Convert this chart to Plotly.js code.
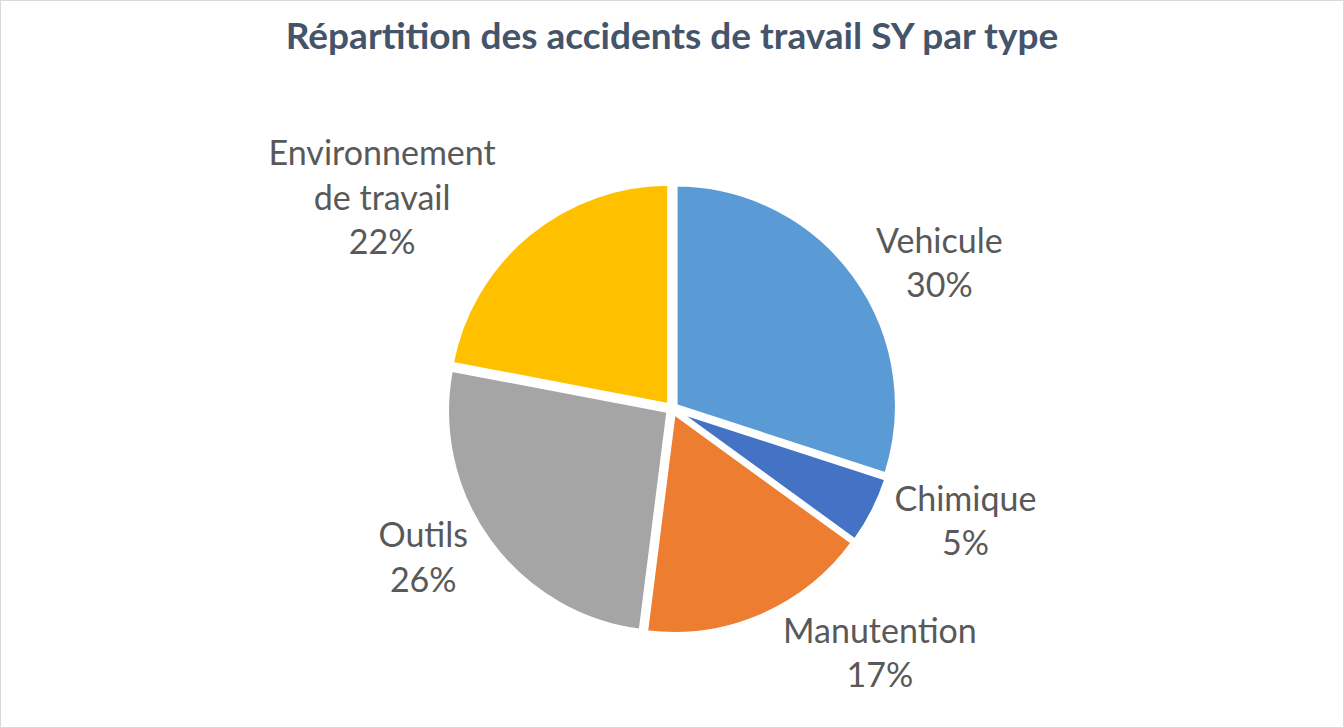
<!DOCTYPE html>
<html>
<head>
<meta charset="utf-8">
<script src="https://cdn.plot.ly/plotly-3.0.1.min.js"></script>
<style>
  html, body { margin: 0; padding: 0; background: #fff; }
  #chart { width: 1344px; height: 728px; box-sizing: border-box; border: 1px solid #d9d9d9; }
</style>
</head>
<body>
<div id="chart"></div>
<script>
const categories = ['Vehicule', 'Chimique', 'Manutention', 'Outils', 'Environnement de travail'];
const shownLabels = ['Vehicule', 'Chimique', 'Manutention', 'Outils', 'Environnement<br>de travail'];
const shares = [30, 5, 17, 26, 22];
const sliceColors = ['#5B9BD5', '#4472C4', '#ED7D31', '#A5A5A5', '#FFC000'];

const trace = {
    type: 'pie',
    labels: categories,
    values: shares,
    text: shownLabels,
    sort: false,
    direction: 'clockwise',
    rotation: 0,
    pull: 0.02,
    marker: {colors: sliceColors, line: {color: '#ffffff', width: 4}},
    textposition: 'outside',
    texttemplate: '%{text}<br>%{percent:.0%}',
    textfont: {family: 'Lato, "Open Sans", sans-serif', size: 34, color: '#595959'},
    showlegend: false,
    hoverinfo: 'label+percent',
    domain: {x: [0.25, 0.75], y: [0.13, 0.84]}
};

const layout = {
    width: 1342, height: 726,
    margin: {l: 10, r: 10, t: 80, b: 10},
    paper_bgcolor: '#ffffff',
    title: {
        text: '<b>Répartition des accidents de travail SY par type</b>',
        font: {family: 'Lato, "Open Sans", sans-serif', size: 37, color: '#44546A'},
        x: 0.5, y: 0.97, yanchor: 'top', xanchor: 'center'
    }
};

Plotly.newPlot('chart', [trace], layout, {displayModeBar: false});
</script>
</body>
</html>
